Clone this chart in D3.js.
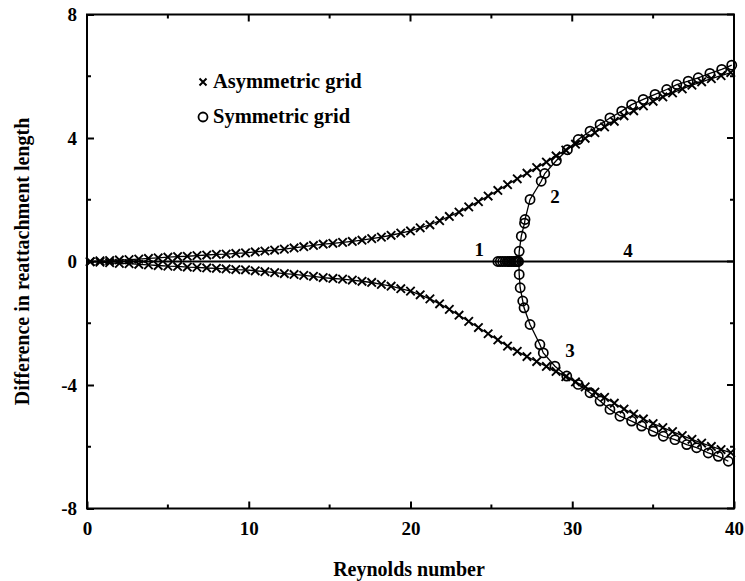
<!DOCTYPE html>
<html>
<head>
<meta charset="utf-8">
<script src="https://cdn.jsdelivr.net/npm/d3@7"></script>
<style>
  html, body { margin: 0; padding: 0; background: #fff; }
  svg text { font-family: "Liberation Serif", "Times New Roman", serif; font-weight: bold; fill: #000; }
</style>
</head>
<body>
<svg id="chart" width="745" height="581"></svg>
<script>
// Reynolds numbers of the asymmetric-grid solutions
const reAsym = [0.2, 0.8, 1.4, 2.0, 2.6, 3.2, 3.8, 4.4, 5.0, 5.6, 6.2, 6.8, 7.4, 8.0, 8.6, 9.2, 9.8,
  10.4, 11.0, 11.6, 12.2, 12.8, 13.4, 14.0, 14.6, 15.2, 15.8, 16.4, 17.0, 17.6, 18.2, 18.8, 19.4,
  20.0, 20.6, 21.2, 21.8, 22.4, 23.0, 23.6, 24.2, 24.8, 25.4, 26.0, 26.6, 27.2, 27.8, 28.4, 29.0,
  29.6, 30.2, 30.8, 31.4, 32.0, 32.6, 33.2, 33.8, 34.4, 35.0, 35.6, 36.2, 36.8, 37.4, 38.0, 38.6,
  39.2, 39.8];
// Upper asymmetric branch
const asymUpper = [0.00, 0.02, 0.03, 0.05, 0.06, 0.08, 0.10, 0.12, 0.14, 0.16, 0.17, 0.19, 0.21, 0.23,
  0.24, 0.26, 0.28, 0.31, 0.34, 0.37, 0.40, 0.44, 0.48, 0.52, 0.56, 0.59, 0.62, 0.65, 0.69, 0.74,
  0.79, 0.85, 0.92, 0.99, 1.09, 1.19, 1.32, 1.46, 1.60, 1.77, 1.94, 2.12, 2.30, 2.49, 2.68, 2.86,
  3.04, 3.22, 3.42, 3.61, 3.80, 3.99, 4.17, 4.36, 4.54, 4.72, 4.88, 5.04, 5.19, 5.33, 5.46, 5.59,
  5.71, 5.82, 5.92, 6.02, 6.12];
// Lower asymmetric branch
const asymLower = [-0.01, -0.02, -0.04, -0.06, -0.07, -0.09, -0.11, -0.13, -0.15, -0.16, -0.18, -0.19,
  -0.21, -0.22, -0.24, -0.26, -0.27, -0.30, -0.33, -0.36, -0.39, -0.42, -0.45, -0.48, -0.52, -0.55,
  -0.57, -0.60, -0.64, -0.68, -0.74, -0.80, -0.88, -0.96, -1.08, -1.21, -1.37, -1.55, -1.74, -1.94,
  -2.14, -2.34, -2.54, -2.74, -2.91, -3.08, -3.24, -3.40, -3.56, -3.73, -3.90, -4.06, -4.23, -4.40,
  -4.59, -4.78, -4.94, -5.10, -5.25, -5.38, -5.51, -5.64, -5.76, -5.88, -5.99, -6.09, -6.19];

// Symmetric grid: branch 1 (symmetric solution, near the bifurcation)
const reSym1 = [25.4, 25.55, 25.7, 25.85, 26.0, 26.12, 26.24, 26.35, 26.45, 26.54, 26.62, 26.68];
const sym1 = [0, 0, 0, 0, 0, 0, 0, 0, 0, 0, 0, 0];
// Symmetric grid: branch 2 (upper)
const reSym2 = [26.72, 26.85, 27.05, 27.08, 27.39, 28.08, 28.3, 29.02, 29.7, 30.37, 31.1, 31.72, 32.33,
  33.06, 33.67, 34.39, 35.12, 35.84, 36.46, 37.17, 37.79, 38.51, 39.24, 39.86];
const sym2 = [0.33, 0.82, 1.24, 1.36, 2.01, 2.6, 2.85, 3.27, 3.62, 3.95, 4.22, 4.44, 4.65, 4.87, 5.08,
  5.25, 5.41, 5.57, 5.73, 5.84, 5.95, 6.09, 6.22, 6.36];
// Symmetric grid: branch 3 (lower)
const reSym3 = [26.72, 26.78, 26.94, 27.02, 27.39, 28.0, 28.21, 28.93, 29.66, 30.37, 31.1, 31.72, 32.33,
  32.95, 33.67, 34.29, 35.01, 35.63, 36.35, 37.08, 37.69, 38.41, 39.03, 39.65];
const sym3 = [-0.42, -0.85, -1.28, -1.5, -2.04, -2.69, -2.96, -3.39, -3.71, -3.98, -4.25, -4.52, -4.79,
  -5.01, -5.17, -5.33, -5.5, -5.66, -5.77, -5.93, -6.03, -6.2, -6.31, -6.47];
// Bifurcation point and the symmetric solution line (branches 1 and 4)
const reBif = 26.7;
const symLineRe = [0, reBif, 40];
const symLineVal = [0, 0, 0];

const xTicks = [0, 10, 20, 30, 40];
const xMinor = [5, 15, 25, 35];
const yTicks = [-8, -4, 0, 4, 8];
const yMinor = [-6, -2, 2, 6];
const branchLabels = ["1", "2", "3", "4"];
const branchLabelPos = [[24.25, 0.18], [28.93, 1.91], [29.86, -3.08], [33.45, 0.13]];

const svg = d3.select("#chart");
const W = 745, H = 581;
svg.append("rect").attr("width", W).attr("height", H).attr("fill", "#fff");

const x = d3.scaleLinear().domain([0, 40]).range([87, 734]);
const y = d3.scaleLinear().domain([-8, 8]).range([508.5, 14.5]);

const zip = (xs, ys) => xs.map((v, i) => [v, ys[i]]);
const line = d3.line().x(d => x(d[0])).y(d => y(d[1]));

const plot = svg.append("g");

// symmetric solution line along zero
plot.append("path").datum(zip(symLineRe, symLineVal)).attr("d", line)
  .attr("fill", "none").attr("stroke", "#000").attr("stroke-width", 2);

// asymmetric grid curves
[asymUpper, asymLower].forEach(vals => {
  const pts = [[0, 0]].concat(zip(reAsym, vals));
  plot.append("path").datum(pts).attr("d", line)
    .attr("fill", "none").attr("stroke", "#000").attr("stroke-width", 1.3);
});

// symmetric grid curves from the bifurcation point
[[reSym2, sym2], [reSym3, sym3]].forEach(([rs, vs]) => {
  const pts = [[reBif, 0]].concat(zip(rs, vs));
  plot.append("path").datum(pts).attr("d", line)
    .attr("fill", "none").attr("stroke", "#000").attr("stroke-width", 1.3);
});

// cross markers
const crossPath = "M-4.2,-4.2L4.2,4.2M-4.2,4.2L4.2,-4.2";
[asymUpper, asymLower].forEach(vals => {
  plot.append("g").selectAll("path").data(zip(reAsym, vals)).join("path")
    .attr("d", crossPath)
    .attr("transform", d => `translate(${x(d[0])},${y(d[1])})`)
    .attr("fill", "none").attr("stroke", "#000").attr("stroke-width", 1.9);
});

// circle markers
[[reSym1, sym1], [reSym2, sym2], [reSym3, sym3]].forEach(([rs, vs]) => {
  plot.append("g").selectAll("circle").data(zip(rs, vs)).join("circle")
    .attr("cx", d => x(d[0])).attr("cy", d => y(d[1])).attr("r", 4.6)
    .attr("fill", "none").attr("stroke", "#000").attr("stroke-width", 1.7);
});

// frame
svg.append("rect").attr("x", x(0)).attr("y", y(8))
  .attr("width", x(40) - x(0)).attr("height", y(-8) - y(8))
  .attr("fill", "none").attr("stroke", "#000").attr("stroke-width", 2);

// axes with inward ticks; labels use a plain hyphen for negatives
const fmt = d => String(d);
const axB = d3.axisBottom(x).tickValues(xTicks).tickSize(-7).tickPadding(13).tickFormat(fmt);
const axL = d3.axisLeft(y).tickValues(yTicks).tickSize(-7).tickPadding(10).tickFormat(fmt);
const gB = svg.append("g").attr("transform", `translate(0,${y(-8)})`).call(axB);
const gL = svg.append("g").attr("transform", `translate(${x(0)},0)`).call(axL);
[gB, gL].forEach(g => {
  g.select(".domain").remove();
  g.selectAll("line").attr("stroke", "#000").attr("stroke-width", 2);
  g.selectAll("text").style("font-size", "19px").style("font-family", "Liberation Serif, serif")
    .style("font-weight", "bold").attr("fill", "#000");
});
// minor ticks and opposite-side ticks
const tk = svg.append("g").attr("stroke", "#000").attr("stroke-width", 2);
xMinor.forEach(v => {
  tk.append("line").attr("x1", x(v)).attr("x2", x(v)).attr("y1", y(-8)).attr("y2", y(-8) - 4);
  tk.append("line").attr("x1", x(v)).attr("x2", x(v)).attr("y1", y(8)).attr("y2", y(8) + 4);
});
xTicks.forEach(v => {
  tk.append("line").attr("x1", x(v)).attr("x2", x(v)).attr("y1", y(8)).attr("y2", y(8) + 7);
});
yMinor.forEach(v => {
  tk.append("line").attr("x1", x(0)).attr("x2", x(0) + 4).attr("y1", y(v)).attr("y2", y(v));
  tk.append("line").attr("x1", x(40)).attr("x2", x(40) - 4).attr("y1", y(v)).attr("y2", y(v));
});
yTicks.forEach(v => {
  tk.append("line").attr("x1", x(40)).attr("x2", x(40) - 7).attr("y1", y(v)).attr("y2", y(v));
});

// axis titles
svg.append("text").attr("x", 409).attr("y", 576).attr("text-anchor", "middle")
  .style("font-size", "20px").text("Reynolds number");
svg.append("text").attr("transform", `translate(29,${(y(8) + y(-8)) / 2}) rotate(-90)`)
  .attr("text-anchor", "middle").style("font-size", "20px")
  .text("Difference in reattachment length");

// branch numbers
branchLabels.forEach((t, i) => {
  svg.append("text").attr("x", x(branchLabelPos[i][0])).attr("y", y(branchLabelPos[i][1]))
    .attr("text-anchor", "middle").style("font-size", "19px").text(t);
});

// legend
const lg = svg.append("g");
lg.append("path").attr("d", "M-3.5,-3.5L3.5,3.5M-3.5,3.5L3.5,-3.5")
  .attr("transform", "translate(203,82)").attr("fill", "none").attr("stroke", "#000").attr("stroke-width", 2);
lg.append("text").attr("x", 213).attr("y", 88).style("font-size", "20.5px").text("Asymmetric grid");
lg.append("circle").attr("cx", 203).attr("cy", 117).attr("r", 4.5)
  .attr("fill", "none").attr("stroke", "#000").attr("stroke-width", 1.8);
lg.append("text").attr("x", 213).attr("y", 123).style("font-size", "20.5px").text("Symmetric grid");
</script>
</body>
</html>
